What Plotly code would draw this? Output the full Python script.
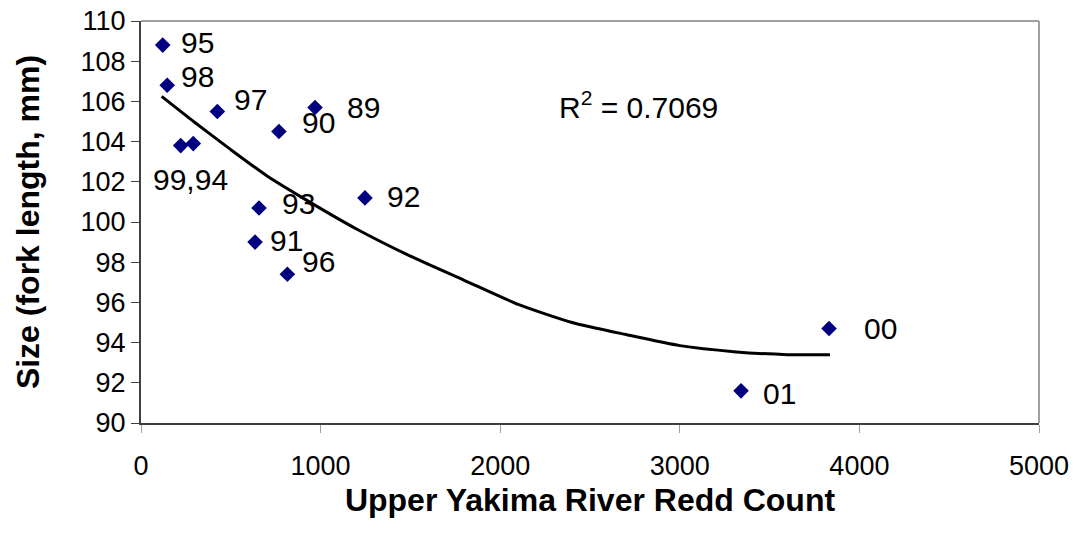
import plotly.graph_objects as go

# ─── Data ────────────────────────────────────────────────────────────────────
YEARS = ["95", "98", "97", "99", "94", "90", "89", "92", "93", "91", "96", "00", "01"]
REDD_COUNT = [121, 146, 425, 221, 291, 768, 969, 1247, 657, 635, 815, 3831, 3341]
FORK_LENGTH = [108.8, 106.8, 105.5, 103.8, 103.9, 104.5, 105.7, 101.2, 100.7, 99.0, 97.4, 94.7, 91.6]

# polynomial trendline
TREND_X = [115, 300, 500, 700, 900, 1200, 1500, 1800, 2100, 2400, 2700, 3000, 3300, 3600, 3836]
TREND_Y = [106.25, 104.95, 103.6, 102.3, 101.2, 99.65, 98.3, 97.1, 95.9, 95.0, 94.4, 93.85, 93.55, 93.4, 93.4]
R_SQUARED = 0.7069

X_TICKS = [0, 1000, 2000, 3000, 4000, 5000]
Y_TICKS = [90, 92, 94, 96, 98, 100, 102, 104, 106, 108, 110]

# ─── Style ───────────────────────────────────────────────────────────────────
NAVY = "#000080"
AXIS = "#404040"
BORDER = "#a0a0a0"
FONT = "Liberation Sans, Arial, sans-serif"
LABEL_SIZE = 30

# label placement relative to its marker (pixels): xshift, yshift (down)
LABEL_OFFSETS = {
    "95": (16, -3),
    "98": (12, -9),
    "97": (15, -12),
    "90": (21, -9),
    "89": (30, 0),
    "92": (20, -1),
    "93": (21, -4),
    "91": (13, -2),
    "96": (13, -13),
    "00": (33, 0),
    "01": (20, 3),
}

fig = go.Figure()

fig.add_trace(go.Scatter(
    x=TREND_X, y=TREND_Y,
    mode="lines",
    line=dict(color="black", width=3, shape="spline", smoothing=0.6),
    hoverinfo="skip",
    showlegend=False,
))

fig.add_trace(go.Scatter(
    x=REDD_COUNT, y=FORK_LENGTH,
    mode="markers",
    marker=dict(symbol="diamond", size=12, color=NAVY, line=dict(width=0)),
    text=YEARS,
    showlegend=False,
))

annotations = []
for yr, xv, yv in zip(YEARS, REDD_COUNT, FORK_LENGTH):
    if yr in LABEL_OFFSETS:
        dx, dy = LABEL_OFFSETS[yr]
        annotations.append(dict(
            x=xv, y=yv, text=yr, showarrow=False,
            xanchor="left", yanchor="middle", xshift=dx, yshift=-dy,
            font=dict(family=FONT, size=LABEL_SIZE, color="black"),
        ))

# 99 and 94 share one label underneath the pair
i99 = YEARS.index("99")
annotations.append(dict(
    x=REDD_COUNT[i99], y=FORK_LENGTH[i99], text="99,94", showarrow=False,
    xanchor="center", yanchor="middle", xshift=10, yshift=-34,
    font=dict(family=FONT, size=LABEL_SIZE, color="black"),
))

annotations.append(dict(
    x=2316, y=105.8, text=f"R<sup>2</sup> = {R_SQUARED:.4f}", showarrow=False,
    xanchor="left", yanchor="middle",
    font=dict(family=FONT, size=LABEL_SIZE, color="black"),
))

fig.update_layout(
    width=1079, height=544,
    paper_bgcolor="white", plot_bgcolor="white",
    margin=dict(l=133, r=48, t=13, b=129),
    font=dict(family=FONT, color="black", size=27),
    annotations=annotations,
    xaxis=dict(
        range=[0, 5000], tickvals=X_TICKS, ticks="outside", ticklen=8,
        tickcolor=BORDER, tickwidth=1, showgrid=False, zeroline=False,
        showline=True, linecolor=AXIS, linewidth=2, automargin=False,
        tickfont=dict(size=27), ticklabelstandoff=10, ticklabeloverflow="allow",
        title=dict(text="<b>Upper Yakima River Redd Count</b>", font=dict(size=32), standoff=8),
    ),
    yaxis=dict(
        range=[90, 110], tickvals=Y_TICKS, ticks="outside", ticklen=8,
        tickcolor=AXIS, tickwidth=1, showgrid=False, zeroline=False,
        showline=True, linecolor=AXIS, linewidth=2, automargin=False,
        tickfont=dict(size=27), ticklabeloverflow="allow",
        title=dict(text="<b>Size (fork length, mm)</b>", font=dict(size=32), standoff=31),
    ),
    shapes=[
        dict(type="line", xref="x domain", yref="y domain", x0=0, x1=1, y0=1, y1=1,
             line=dict(color=BORDER, width=2)),
        dict(type="line", xref="x domain", yref="y domain", x0=1, x1=1, y0=0, y1=1,
             line=dict(color=BORDER, width=2)),
    ],
)

fig.write_html("out.html")
